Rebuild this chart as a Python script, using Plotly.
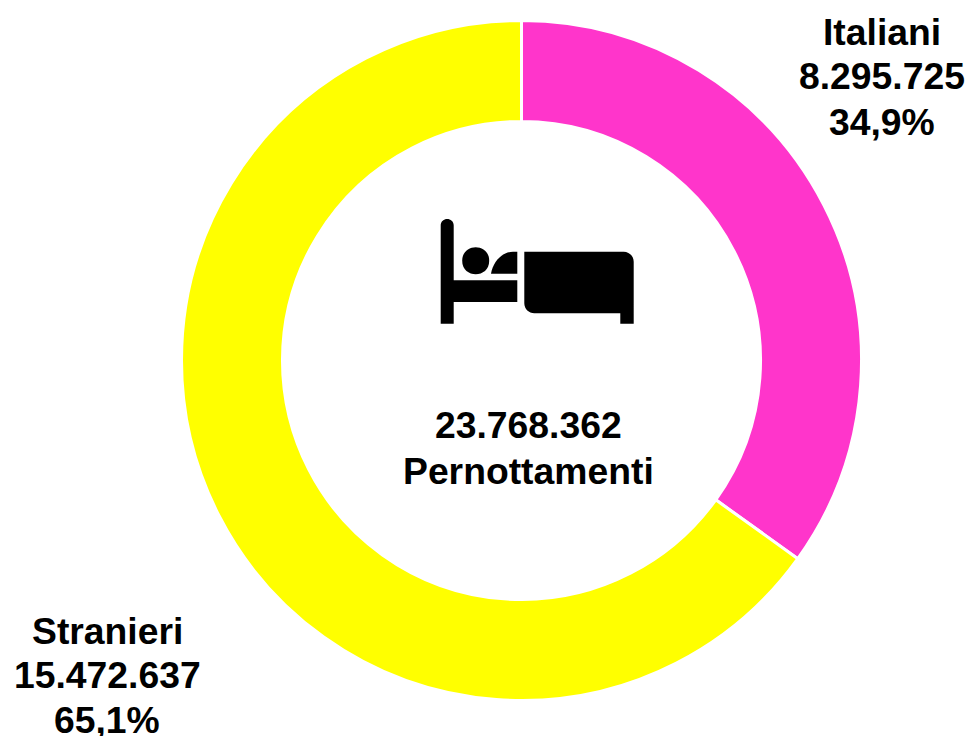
import plotly.graph_objects as go

W, H = 971, 736

labels = ["Italiani", "Stranieri"]
values = [8295725, 15472637]
colors = ["#FF35CB", "#FFFF00"]
label_x = [882, 107]
label_y = [[32, 76, 122], [631, 675, 720]]
center_text = "Pernottamenti"


def it_num(n):
    return f"{n:,}".replace(",", ".")


def px(x):
    return x / W


def py(y):
    return 1 - y / H


def txt(x, y, s):
    return dict(x=px(x), y=py(y), xref="paper", yref="paper", text=s, showarrow=False,
                xanchor="center", yanchor="middle",
                font=dict(family="Liberation Sans", size=37.3, color="black"))


def path(cmds):
    # icon outline given in page pixels
    out = []
    for c in cmds:
        out.append(c[0] + " ".join(f"{px(c[i])} {py(c[i + 1])}" for i in range(1, len(c), 2)))
    return " ".join(out) + " Z"


total = sum(values)

fig = go.Figure(go.Pie(labels=labels, values=values, hole=0.703, sort=False, direction="clockwise",
                       rotation=0, textinfo="none", hoverinfo="label+value+percent",
                       marker=dict(colors=colors, line=dict(color="white", width=3)),
                       domain=dict(x=[px(181.5), px(861.5)], y=[py(700.5), py(20.5)])))

annotations = []
for name, v, x, ys in zip(labels, values, label_x, label_y):
    pct = f"{v / total * 100:.1f}%".replace(".", ",")
    for y, s in zip(ys, [name, it_num(v), pct]):
        annotations.append(txt(x, y, f"<b>{s}</b>"))
annotations.append(txt(528, 425, f"<b>{it_num(total)}</b>"))
annotations.append(txt(528, 471, f"<b>{center_text}</b>"))

# bed icon
icon = [
    # post and bar
    path([("M", 440.7, 323.7), ("L", 440.7, 225.5), ("C", 440.7, 216.8, 453.7, 216.8, 453.7, 225.5),
          ("L", 453.7, 280.3), ("L", 517.3, 280.3), ("L", 517.3, 302), ("L", 453.7, 302), ("L", 453.7, 323.7)]),
    # head
    path([("M", 462.2, 260.7), ("C", 462.2, 242.7, 489.2, 242.7, 489.2, 260.7),
          ("C", 489.2, 278.7, 462.2, 278.7, 462.2, 260.7)]),
    # pillow
    path([("M", 491, 273.7), ("C", 493, 262, 501, 252.5, 513, 251.7), ("L", 517.3, 251.7), ("L", 517.3, 273.7)]),
    # mattress
    path([("M", 524.3, 251.7), ("L", 623.7, 251.7), ("C", 629, 251.7, 633.7, 256, 633.7, 261.7),
          ("L", 633.7, 323.7), ("L", 620.3, 323.7), ("L", 620.3, 313.3), ("L", 534.3, 313.3),
          ("C", 529, 313.3, 524.3, 309, 524.3, 303.3)]),
]

fig.update_layout(width=W, height=H, margin=dict(l=0, r=0, t=0, b=0), showlegend=False,
                  paper_bgcolor="white", annotations=annotations,
                  shapes=[dict(type="path", xref="paper", yref="paper", path=p,
                               fillcolor="black", line=dict(width=0)) for p in icon])

fig.write_html("out.html", config={"displayModeBar": False},
               post_script="document.body.style.margin='0';")
